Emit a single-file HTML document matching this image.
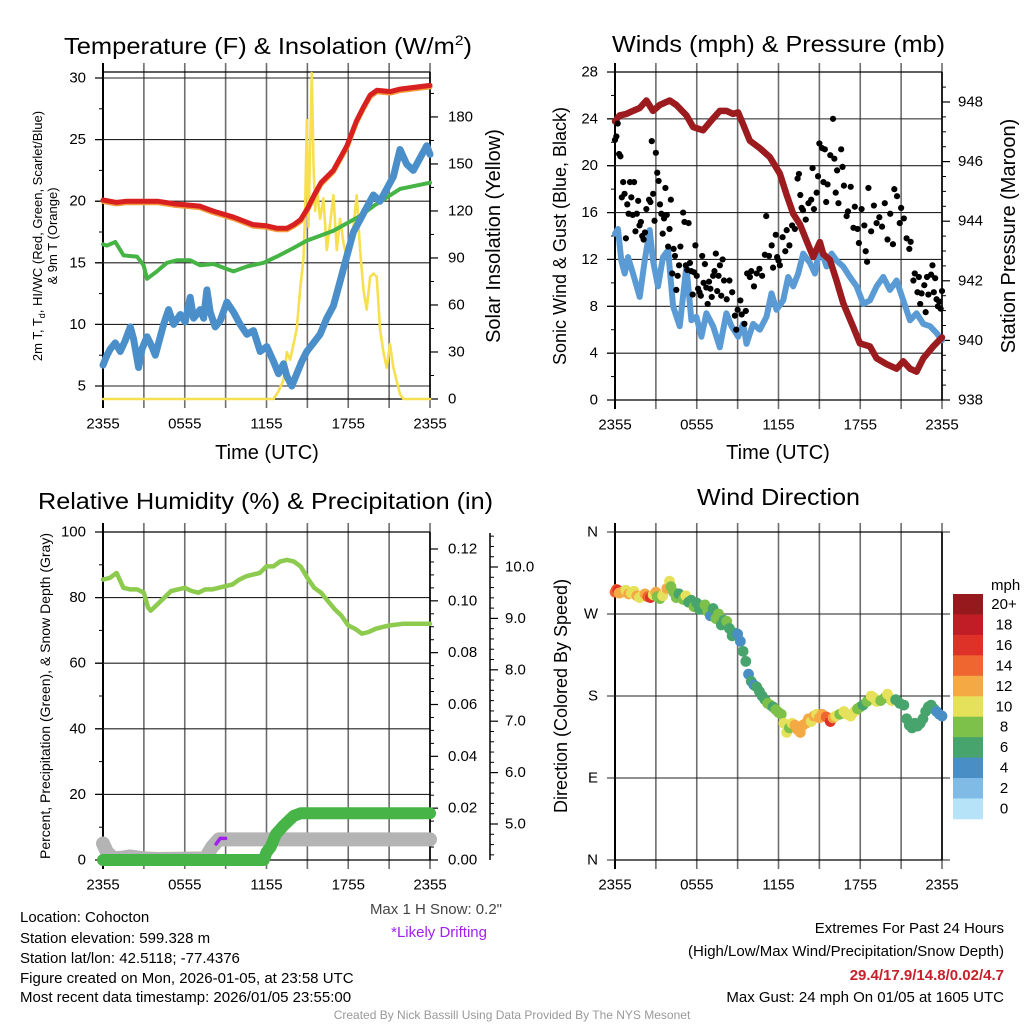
<!DOCTYPE html>
<html><head><meta charset="utf-8"><title>Cohocton Mesonet Meteogram</title>
<style>
html,body{margin:0;padding:0;background:#fff;}
svg{display:block;font-family:"Liberation Sans",Arial,sans-serif;}
</style></head>
<body>
<svg id="fig" width="1024" height="1024" viewBox="0 0 1024 1024" xmlns="http://www.w3.org/2000/svg">
<rect x="0" y="0" width="1024" height="1024" fill="#fff"/>
<g id="layer"></g>
<!-- titles -->
<text x="64" y="54" font-size="23" textLength="408" lengthAdjust="spacingAndGlyphs">Temperature (F) &amp; Insolation (W/m<tspan font-size="14" dy="-9">2</tspan><tspan dy="9">)</tspan></text>
<text x="612" y="52" font-size="23" textLength="333" lengthAdjust="spacingAndGlyphs">Winds (mph) &amp; Pressure (mb)</text>
<text x="38" y="509" font-size="23" textLength="455" lengthAdjust="spacingAndGlyphs">Relative Humidity (%) &amp; Precipitation (in)</text>
<text x="697" y="505" font-size="23" textLength="163" lengthAdjust="spacingAndGlyphs">Wind Direction</text>
<!-- axis titles -->
<text transform="translate(42,236) rotate(-90)" text-anchor="middle" font-size="13">2m T, T<tspan font-size="9" dy="3">d</tspan><tspan dy="-3">, HI/WC (Red, Green, Scarlet/Blue)</tspan></text>
<text transform="translate(57,236) rotate(-90)" text-anchor="middle" font-size="13">&amp; 9m T (Orange)</text>
<text transform="translate(500,236) rotate(-90)" text-anchor="middle" font-size="20">Solar Insolation (Yellow)</text>
<text x="267" y="459" text-anchor="middle" font-size="20">Time (UTC)</text>
<text transform="translate(566,236) rotate(-90)" text-anchor="middle" font-size="18">Sonic Wind &amp; Gust (Blue, Black)</text>
<text transform="translate(1015,236) rotate(-90)" text-anchor="middle" font-size="20">Station Pressure (Maroon)</text>
<text x="778" y="459" text-anchor="middle" font-size="20">Time (UTC)</text>
<text transform="translate(50,696) rotate(-90)" text-anchor="middle" font-size="14">Percent, Precipitation (Green), &amp; Snow Depth (Gray)</text>
<text transform="translate(567,696) rotate(-90)" text-anchor="middle" font-size="18">Direction (Colored By Speed)</text>
<text x="991" y="590" font-size="15">mph</text>
<!-- footer texts -->
<text x="502" y="914" text-anchor="end" font-size="15" fill="#444">Max 1 H Snow: 0.2"</text>
<text x="487" y="937" text-anchor="end" font-size="15" fill="#a020f0">*Likely Drifting</text>
<g font-size="15">
<text x="20" y="922">Location: Cohocton</text>
<text x="20" y="943">Station elevation: 599.328 m</text>
<text x="20" y="963">Station lat/lon: 42.5118; -77.4376</text>
<text x="20" y="983">Figure created on Mon, 2026-01-05, at 23:58 UTC</text>
<text x="20" y="1002">Most recent data timestamp: 2026/01/05 23:55:00</text>
</g>
<g font-size="15" text-anchor="end">
<text x="1004" y="933">Extremes For Past 24 Hours</text>
<text x="1004" y="956">(High/Low/Max Wind/Precipitation/Snow Depth)</text>
<text x="1004" y="980" fill="#c8202a" font-weight="bold">29.4/17.9/14.8/0.02/4.7</text>
<text x="1004" y="1002">Max Gust: 24 mph On 01/05 at 1605 UTC</text>
</g>
<text x="512" y="1019" text-anchor="middle" font-size="12" fill="#999">Created By Nick Bassill Using Data Provided By The NYS Mesonet</text>
</svg>
<script>
// ---------- data ----------
const timeLabels = ["2355","0555","1155","1755","2355"];
const tempH = [0,1,1.76,3,4,5.2,7.1,8.1,9.6,11,12,12.8,13.5,14,14.5,15,15.5,16,16.9,17.9,18.6,19.1,19.6,20.1,21.1,21.8,24];
const tempV = [20.1,19.9,20.0,20.0,20.0,19.8,19.6,19.2,18.7,18.1,18.0,17.8,17.8,18.1,18.5,19.4,20.5,21.5,22.5,24.5,26.5,27.6,28.6,29.0,28.9,29.1,29.4];
const dewZ = [308,320,345,370,410,430,440,470,500,530,570,600,640,680,700,740,790,830,880,920,960,1000,1040,1080,1120,1160,1200,1290];
const dewV = [16.5,16.4,16.7,15.6,15.5,14.8,13.7,14.3,15.0,15.2,15.2,14.8,14.9,14.5,14.3,14.7,15.0,15.5,16.2,16.8,17.2,17.6,18.2,18.8,19.6,20.3,21.0,21.5];
const wcZ = [308,320,330,345,360,375,390,400,415,425,440,455,465,480,490,505,520,540,555,570,580,600,610,620,630,645,660,680,700,720,740,760,780,800,820,835,850,860,875,890,905,920,940,960,980,1000,1020,1040,1060,1080,1100,1120,1140,1160,1180,1200,1220,1240,1260,1280,1290];
const wcV = [6.7,7.5,8.0,8.5,7.8,8.7,9.8,8.8,6.5,8.0,9.0,8.2,7.5,9.0,10.0,11.2,10.0,10.8,10.2,12.2,10.5,11.2,10.5,12.8,11.0,9.8,10.3,11.8,11.0,10.0,9.2,9.5,7.8,8.2,7.0,6.0,6.8,5.8,5.0,6.0,7.0,7.8,8.5,9.2,10.5,11.5,13.5,15.5,17.5,18.5,19.5,20.5,20.0,21.0,22.0,24.2,23.0,22.5,23.5,24.5,23.8];
const solZ = [308,820,835,850,860,870,880,890,900,910,915,920,925,930,935,940,945,950,960,970,980,990,1000,1010,1020,1030,1040,1060,1070,1080,1090,1100,1110,1120,1130,1140,1150,1160,1170,1180,1200,1210,1290];
const solV = [0,0,5,12,30,25,35,45,70,90,120,178,110,160,208,150,120,135,115,128,95,112,130,95,115,100,90,110,130,95,70,57,78,80,78,45,30,20,35,20,3,0,0];
const presZ = [226,240,260,280,300,320,340,360,390,410,440,460,490,520,540,560,580,595,610,630,660,690,720,740,760,780,800,820,840,850,870,890,910,940,960,990,1010,1040,1070,1090,1110,1130,1150,1180,1206];
const presV = [947.35,947.55,947.6,947.7,947.8,948.05,947.7,947.9,948.05,947.9,947.55,947.16,947.05,947.45,947.7,947.7,947.6,947.65,947.25,946.7,946.45,946.15,945.6,944.9,944.25,943.9,943.35,942.8,943.3,942.9,942.7,942.0,941.25,940.45,939.9,939.8,939.4,939.2,939.05,939.3,939.05,938.95,939.4,939.8,940.1];
const windZ = [226,235,245,255,265,280,300,315,330,340,355,370,385,400,420,440,455,470,485,500,520,540,560,575,595,610,620,640,660,680,695,710,730,745,760,775,790,810,825,840,860,875,890,910,930,950,970,990,1010,1030,1050,1070,1090,1110,1130,1150,1170,1190,1206];
const windV = [14.2,14.6,11.9,10.8,12.2,10.8,8.8,11.9,14.5,11.9,9.7,12.2,12.8,8.0,6.3,11.4,6.8,7.1,5.4,7.4,6.3,4.5,7.4,6.3,5.4,6.5,4.8,6.5,6.0,7.1,9.1,7.7,8.5,10.5,9.7,10.8,12.5,11.7,10.8,13.1,11.4,12.5,11.9,11.4,10.5,9.7,8.2,8.5,9.7,10.5,9.4,10.2,8.5,6.8,7.4,6.5,6.3,5.7,5.1];
const gustH = [0,0.1,0.2,0.3,0.4,0.5,0.6,0.7,0.8,0.9,1,1.1,1.2,1.3,1.4,1.5,1.6,1.7,1.8,1.9,2,2.1,2.2,2.3,2.5,2.6,2.7,2.8,2.9,3,3.1,3.2,3.3,3.4,3.5,3.6,3.7,3.8,3.9,4,4.1,4.2,4.3,4.4,4.5,4.6,4.7,4.8,5,5.1,5.2,5.3,5.4,5.5,5.6,5.7,5.8,5.9,6,6.1,6.2,6.3,6.4,6.5,6.6,6.7,6.8,6.9,7,7.1,7.2,7.3,7.4,7.5,7.6,7.7,7.8,7.9,8,8.2,8.4,8.6,8.8,8.9,9,9.2,9.3,9.5,9.6,9.7,9.9,10,10.2,10.4,10.6,10.8,11,11.1,11.3,11.5,11.6,11.8,11.9,12,12.1,12.3,12.5,12.6,12.8,13,13.2,13.4,13.5,13.6,13.7,13.8,14,14.2,14.4,14.5,14.6,14.8,14.9,15,15.2,15.3,15.4,15.5,15.6,15.8,16,16.1,16.2,16.3,16.4,16.6,16.7,16.8,17,17.1,17.3,17.5,17.6,17.8,17.9,18.1,18.3,18.4,18.5,18.6,18.8,19,19.2,19.4,19.6,19.8,20,20.2,20.4,20.5,20.7,20.9,21,21.2,21.4,21.6,21.7,21.9,22,22.2,22.3,22.4,22.5,22.7,22.8,22.9,23,23.2,23.3,23.4,23.5,23.6,23.7,23.8,23.9,24];
const gustV = [22.2,22.5,23.6,21,20.8,17.3,18.6,17.6,13.8,16.7,15.9,18.6,17.3,15.8,18.6,14.4,15.9,17,14.9,15.2,14,13.7,14.3,16.3,17.1,16.9,22.1,17.6,15.3,21.1,19.4,18.7,16.7,15.9,14.2,15.5,18.1,15.8,13.1,14.6,17.1,10.8,12.9,12.3,9.4,10.6,11.5,13.1,16,15.2,11.5,11.1,15.1,11.7,11,9,10.9,13.2,10.6,9.5,9.2,8.9,12.3,10,11.6,9.6,8.2,10.1,9.5,8.8,10.6,11,12.5,9.3,10.6,11.5,8.9,12,10.2,8.6,10.2,9.2,7.2,6,7.7,8.5,7.3,6.5,7.6,10.8,10.5,11,9.7,10.8,11.2,10.6,12.4,15.7,12.3,13.2,11.3,14.1,12.2,11.9,11.5,13.9,12.7,14.5,13.2,14.9,14.6,18.9,19.3,17.5,16.4,16.2,15.4,16.8,17.1,19.8,16.3,17.7,19.1,21.9,21.5,18.6,21.4,16.9,18.4,20.9,24,20.6,17.7,19.6,16.8,21.4,19.9,18.3,15.7,16.1,18.2,14.7,16.5,14.6,13.4,16.3,14.9,12.7,11.8,18.1,14.4,16.6,15.1,15.6,14.8,16.8,13.7,15.9,13.3,18,17.4,15.1,16.4,15.5,13.8,12.9,13.5,10.2,10.8,9.2,10.5,8.2,9.1,9.8,7.5,10.5,9,10.7,11.5,9.2,10.4,8.6,8,8.4,7.8,9.3];
const rhH = [0,0.5,1,1.5,2,2.5,3,3.3,3.5,4,4.5,5,5.5,6,6.5,7,7.5,8,8.5,9,9.5,10,10.5,11,11.5,12,12.5,13,13.5,14,14.5,15,15.5,16,16.5,17,17.5,18,18.5,19,19.5,20,20.5,21,22,23,24];
const rhV = [85.5,86,87.5,83,82.5,82.5,81.5,77,76,78,80,82,82.5,83,82,81.5,82.5,82.5,83,83.5,84,85.5,86.5,87,87.5,89.5,89.5,91,91.5,91,89.5,86,83,81.5,79,76.5,74.5,71.5,70.5,69,69.5,70.5,71,71.5,72,72,72];
const precipH = [0,11.8,12.0,12.3,12.7,13.2,13.6,14.0,14.5,24];
const precipV = [0,0,0.003,0.005,0.01,0.013,0.015,0.017,0.018,0.018];
const snowH = [0,0.3,0.8,1.5,2.0,2.5,3,4,7.5,8.0,8.5,24];
const snowV = [4.62,4.45,4.33,4.35,4.37,4.35,4.33,4.32,4.33,4.55,4.7,4.7];
const driftH = [8.3,8.6,9.0];
const driftV = [4.61,4.72,4.72];
const dirH = [0,0.1,0.2,0.3,0.5,0.8,1,1.2,1.4,1.6,1.8,2,2.2,2.4,2.6,2.8,3,3.1,3.3,3.5,3.8,4,4.1,4.3,4.5,4.7,5,5.2,5.4,5.6,5.8,6,6.2,6.4,6.6,6.8,7,7.2,7.4,7.6,7.8,8,8.2,8.4,8.6,8.8,9,9.2,9.4,9.6,9.8,10,10.2,10.4,10.6,10.8,11,11.2,11.4,11.6,11.8,12,12.2,12.4,12.6,12.8,13,13.2,13.4,13.6,13.8,14,14.2,14.4,14.6,14.8,15,15.2,15.5,15.8,16,16.2,16.5,16.8,17,17.3,17.6,17.8,18,18.2,18.5,18.8,19,19.2,19.5,19.8,20,20.3,20.6,20.9,21.2,21.4,21.6,21.8,22,22.2,22.4,22.6,22.8,23,23.2,23.4,23.6,23.8,24];
const dirV = [294,297,296,293,294,296,292,293,295,290,288,290,292,289,288,291,294,289,287,290,298,306,300,294,288,292,286,290,283,285,278,282,275,278,280,273,268,276,265,270,258,263,262,254,246,249,248,240,229,218,204,196,192,190,185,180,176,172,170,168,165,162,160,150,140,145,150,148,143,140,148,150,155,152,158,160,156,160,157,152,156,158,160,163,160,158,163,166,168,170,174,180,178,174,175,178,182,175,176,172,170,155,148,145,150,147,150,155,163,168,170,166,163,160,158];
const dirSpd = [14,15,16,13,12,10,12,11,10,12,10,11,12,15,16,11,13,9,8,10,12,10,8,9,8,6,8,10,7,6,8,6,6,7,8,8,5,6,8,8,6,6,8,6,6,6,4,4,6,6,4,6,4,6,6,6,7,8,8,6,8,8,8,10,10,8,11,12,12,12,12,12,13,10,12,10,12,12,14,16,12,11,8,10,10,10,10,8,8,7,8,10,10,10,8,9,10,10,7,7,6,6,6,6,6,6,6,6,7,6,6,6,5,4,4];
const cbLabels = ["20+","18","16","14","12","10","8","6","4","2","0"];
const cbColors = ["#961a1d","#c01d26","#de3128","#ef6630","#f5a944","#e6e15a","#7dc04a","#47a46c","#4a8ec6","#7fbbe4","#b6e3f8"];
const tempTicks = [5,10,15,20,25,30];
const solarTicks = [0,30,60,90,120,150,180];
const windTicks = [0,4,8,12,16,20,24,28];
const presTicks = [938,940,942,944,946,948];
const rhTicks = [0,20,40,60,80,100];
const precipTicks = [0,0.02,0.04,0.06,0.08,0.10,0.12];
const snowTicks = [5,6,7,8,9,10];
const dirTicks = ["N","E","S","W","N"];
const dirTickVals = [0,90,180,270,360];

// ---------- axis functions ----------
const xH = h => 103 + h*(327/24);
const xH2 = h => 615 + h*(327/24);
const zx1 = z => (z-308)/40.917;
const zx2 = z => (z-226)/40.833;
const yT = t => 78 + (30-t)*12.32;
const yS = s => 399 - s*1.567;
const yW = w => 400 - w*11.714;
const yP = p => 400 - (p-938)*29.8;
const yR = r => 860 - r*3.28;
const yPr = p => 860 - p*2591.7;
const ySn = s => 824 - (s-5)*51.4;
const yD = d => 860 - d*(328/360);
const spdColor = s => cbColors[10 - Math.min(10, Math.floor(s/2))];

const NS = "http://www.w3.org/2000/svg";
const layer = document.getElementById('layer');
function mk(tag, attrs, parent){
  const e = document.createElementNS(NS, tag);
  for (const k in attrs) e.setAttribute(k, attrs[k]);
  (parent||layer).appendChild(e);
  return e;
}
function line(x1,y1,x2,y2,stroke,w,parent){
  return mk('line',{x1:x1,y1:y1,x2:x2,y2:y2,stroke:stroke,'stroke-width':w},parent);
}
function txt(x,y,s,anchor,size,parent){
  const e = mk('text',{x:x,y:y,'text-anchor':anchor,'font-size':size,'dominant-baseline':'central'},parent);
  e.textContent = s;
  return e;
}
function poly(xs, ys, stroke, w, parent){
  let d = '';
  for (let i=0;i<xs.length;i++) d += (i?'L':'M') + xs[i].toFixed(1) + ' ' + ys[i].toFixed(1);
  return mk('path',{d:d,fill:'none',stroke:stroke,'stroke-width':w,'stroke-linejoin':'round','stroke-linecap':'round'},parent);
}

// ---------- frames ----------
function panelFrame(name, x0, y0, y1, xf, hGridYs, hGridX0, hGridX1){
  const g = mk('g',{});
  
  
  for (let i=0;i<=8;i++){
    const x = xf(i*3);
    const l = line(x, y0-9, x, y1+9, i===0 ? '#000' : '#6d6d6d', i===0 ? 2 : 1.6, g);
    
    
  }
  hGridYs.forEach(y => {
    const l = line(hGridX0, y, hGridX1, y, '#222', 1.1, g);
    
    
  });
  const r = line(xf(24), y0, xf(24), y1, '#000', 1.6, g);
  
  
  const tp = line(xf(0), y0, xf(24), y0, '#000', 1.3, g);
  
  
  const bt = line(xf(0), y1, xf(24), y1, '#000', 1.3, g);
  
  
  const lg = mk('g',{});
  
  
  timeLabels.forEach((s,i) => {
    const t = txt(xf(i*6), y1+25, s, 'middle', 15, lg);
    
    
  });
  return g;
}
function yTicks(name, vals, fy, xAxis, dir, labelX, anchor, fmt, minorVals){
  const g = mk('g',{});
  
  
  vals.forEach(v => {
    const y = fy(v);
    const tk = line(xAxis, y, xAxis + dir*8, y, '#000', 1.2, g);
    
    
    const t = txt(labelX, y, fmt(v), anchor, 15, g);
    
    
  });
  minorVals.forEach(v => {
    const y = fy(v);
    const tk = line(xAxis, y, xAxis + dir*4, y, '#000', 1, g);
    
    
  });
}
function range(a,b,s){ const r=[]; for(let v=a; v<=b+1e-9; v+=s) r.push(+v.toFixed(4)); return r; }

// Panel 1
panelFrame('temperature', 103, 72, 399, xH, tempTicks.map(yT), 95, 430);
yTicks('temperature-y-axis', tempTicks, yT, 103, -1, 86, 'end', v=>String(v), range(7.5,27.5,5));
yTicks('solar-y-axis', solarTicks, yS, 430, 1, 448, 'start', v=>String(v), range(15,195,30));
// Panel 2
panelFrame('winds', 615, 72, 400, xH2, windTicks.map(yW), 607, 942);
yTicks('wind-y-axis', windTicks, yW, 615, -1, 598, 'end', v=>String(v), range(2,26,4));
yTicks('pressure-y-axis', presTicks, yP, 942, 1, 958, 'start', v=>String(v), range(938.5,948.5,0.5).filter(v=>v%2!==0));
// Panel 3
panelFrame('humidity', 103, 532, 860, xH, rhTicks.map(yR), 95, 430);
yTicks('humidity-y-axis', rhTicks, yR, 103, -1, 86, 'end', v=>String(v), range(10,90,20));
yTicks('precip-y-axis', precipTicks, yPr, 430, 1, 448, 'start', v=>v.toFixed(2), range(0.005,0.115,0.005).filter(v=>Math.round(v*1000)%20!==0));
const snowAxis = line(490, 533, 490, 860, '#000', 1.5);


yTicks('snow-depth-y-axis', snowTicks, ySn, 490, 1, 505, 'start', v=>v.toFixed(1), range(4.4,10.6,0.2).filter(v=>Math.abs(v-Math.round(v))>0.01));
// Panel 4
panelFrame('direction', 615, 532, 860, xH2, dirTickVals.map(yD), 607, 950);
const dg = mk('g',{});


dirTickVals.forEach((v,i) => {
  const t = txt(598, yD(v), dirTicks[i], 'end', 15, dg);
  
  
});

// ---------- series ----------
const solar = poly(solZ.map(z=>xH(zx1(z))), solV.map(yS), '#f6e04f', 2.6);


const tempO = poly(tempH.map(h=>xH(h)), tempV.map(v=>yT(v)+1.5), '#f39a3a', 5);


const tempL = poly(tempH.map(xH), tempV.map(yT), '#d7201f', 5);


const dewL = poly(dewZ.map(z=>xH(zx1(z))), dewV.map(yT), '#45b445', 4);


const wcL = poly(wcZ.map(z=>xH(zx1(z))), wcV.map(yT), '#4a8fca', 7);



const windL = poly(windZ.map(z=>xH2(zx2(z))), windV.map(yW), '#5b9bd5', 6);


const presL = poly(presZ.map(z=>xH2(zx2(z))), presV.map(yP), '#9b1b1e', 6.5);


const gg = mk('g',{});


gustH.forEach((h,i) => {
  const c = mk('circle',{cx:xH2(h), cy:yW(gustV[i]), r:3.1, fill:'#000'}, gg);
  
  
});

const snowL = poly(snowH.map(xH), snowV.map(ySn), '#b4b4b4', 14);


const driftL = poly(driftH.map(xH), driftV.map(ySn), '#a020f0', 3.5);


const precL = poly(precipH.map(xH), precipV.map(yPr), '#46b446', 12);


const rhL = poly(rhH.map(xH), rhV.map(yR), '#8dcb4f', 4.5);



const dpg = mk('g',{});


dirH.forEach((h,i) => {
  const c = mk('circle',{cx:xH2(h), cy:yD(dirV[i]), r:5.4, fill:spdColor(dirSpd[i])}, dpg);
  
  
});

// colorbar
const cb = mk('g',{});


cbLabels.forEach((s,i) => {
  const y = 594 + i*20.45;
  const r = mk('rect',{x:953, y:y, width:30, height:20.8, fill:cbColors[i]}, cb);
  
  
  const t = txt(1004, y+10.5, s, 'middle', 15, cb);
  
  
});
</script>
</body></html>
